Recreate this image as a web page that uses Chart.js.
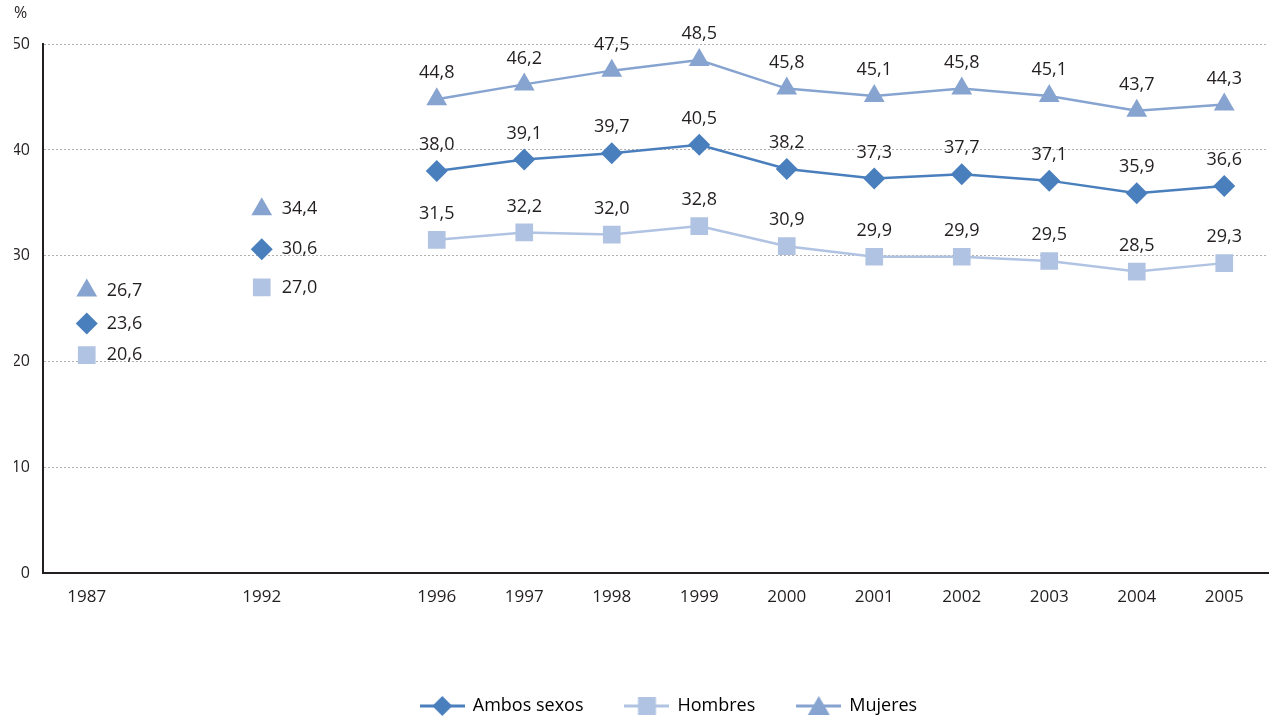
<!DOCTYPE html>
<html>
<head>
<meta charset="utf-8">
<script src="https://cdn.jsdelivr.net/npm/chart.js@4"></script>
<style>
  html, body { margin: 0; padding: 0; background: #fff; }
  canvas { display: block; }
</style>
</head>
<body>
<canvas id="chart" width="1269" height="722"></canvas>
<script>
// years; empty slots keep the spacing of the original axis
const years = ['1987', '', '1992', '', '1996', '1997', '1998', '1999', '2000', '2001', '2002', '2003', '2004', '2005'];
const ambosSexos = [23.6, null, 30.6, null, 38.0, 39.1, 39.7, 40.5, 38.2, 37.3, 37.7, 37.1, 35.9, 36.6];
const hombres = [20.6, null, 27.0, null, 31.5, 32.2, 32.0, 32.8, 30.9, 29.9, 29.9, 29.5, 28.5, 29.3];
const mujeres = [26.7, null, 34.4, null, 44.8, 46.2, 47.5, 48.5, 45.8, 45.1, 45.8, 45.1, 43.7, 44.3];
const yTicks = [0, 10, 20, 30, 40, 50];

const colAmbos = '#4a7fbd';
const colHombres = '#b0c3e2';
const colMujeres = '#87a4d1';

// legend icon: short line with the marker in the middle
function legendIcon(color, shape) {
  const c = document.createElement('canvas');
  c.width = 45; c.height = 22;
  const g = c.getContext('2d');
  g.strokeStyle = color; g.lineWidth = 3;
  g.beginPath(); g.moveTo(0, 11); g.lineTo(45, 11); g.stroke();
  g.fillStyle = color;
  g.beginPath();
  if (shape === 'diamond') {
    g.moveTo(22.5, 1); g.lineTo(32.5, 11); g.lineTo(22.5, 21); g.lineTo(12.5, 11);
  } else if (shape === 'square') {
    g.rect(13.5, 2, 18, 18);
  } else {
    g.moveTo(22.5, 1); g.lineTo(33.5, 20); g.lineTo(11.5, 20);
  }
  g.closePath(); g.fill();
  return c;
}

const fmt = v => v.toFixed(1).replace('.', ',');

const valueLabels = {
  id: 'valueLabels',
  afterDatasetsDraw(chart) {
    const ctx = chart.ctx;
    ctx.save();
    ctx.font = '18px "Open Sans"';
    ctx.fillStyle = '#231f20';
    ctx.textBaseline = 'middle';
    chart.data.datasets.forEach((ds, i) => {
      const meta = chart.getDatasetMeta(i);
      meta.data.forEach((pt, j) => {
        const v = ds.data[j];
        if (v == null) return;
        if (j < 4) {
          ctx.textAlign = 'left';
          ctx.fillText(fmt(v), pt.x + 20, pt.y);
        } else {
          ctx.textAlign = 'center';
          ctx.fillText(fmt(v), pt.x, pt.y - 26);
        }
      });
    });
    ctx.restore();
  }
};

// nudge the legend row to the right, as in the original
const legendShift = {
  id: 'legendShift',
  afterLayout(chart) {
    chart.legend.left += 28;
    chart.legend.right += 28;
  }
};

const icons = [legendIcon(colAmbos, 'diamond'), legendIcon(colHombres, 'square'), legendIcon(colMujeres, 'triangle')];

new Chart(document.getElementById('chart'), {
  type: 'line',
  data: {
    labels: years,
    datasets: [
      {
        label: 'Ambos sexos',
        data: ambosSexos,
        borderColor: colAmbos,
        backgroundColor: colAmbos,
        borderWidth: 2.5,
        pointStyle: 'rectRot',
        pointRadius: 11,
        pointBorderWidth: 0
      },
      {
        label: 'Hombres',
        data: hombres,
        borderColor: colHombres,
        backgroundColor: colHombres,
        borderWidth: 2.5,
        pointStyle: 'rect',
        pointRadius: 12.5,
        pointBorderWidth: 0
      },
      {
        label: 'Mujeres',
        data: mujeres,
        borderColor: colMujeres,
        backgroundColor: colMujeres,
        borderWidth: 2.5,
        pointStyle: 'triangle',
        pointRadius: 12,
        pointBorderWidth: 0
      }
    ]
  },
  options: {
    responsive: false,
    animation: false,
    spanGaps: false,
    layout: { autoPadding: false, padding: { left: 14, right: 1, top: 0, bottom: 0 } },
    scales: {
      x: {
        offset: true,
        grid: { display: false, drawTicks: false, offset: true },
        border: { display: true, color: '#231f20', width: 2 },
        ticks: { color: '#231f20', font: { family: '"Open Sans"', size: 17 }, padding: 14, autoSkip: false, maxRotation: 0 },
        afterFit: s => { s.height = 82; s.paddingLeft = 0; s.paddingRight = 0; }
      },
      y: {
        min: 0,
        max: 50,
        afterBuildTicks: s => { s.ticks = yTicks.map(v => ({ value: v })); },
        grid: { color: '#b0b0b0', lineWidth: 1, drawTicks: false },
        border: { display: true, color: '#231f20', width: 2, dash: [2, 2] },
        ticks: { color: '#231f20', font: { family: '"Open Sans"', size: 16 }, padding: 13 },
        afterFit: s => { s.width = 29; }
      }
    },
    plugins: {
      title: {
        display: true,
        text: '%',
        align: 'start',
        color: '#231f20',
        font: { family: '"Open Sans"', size: 16, weight: 'normal' },
        padding: { top: 4, bottom: 21 }
      },
      legend: {
        position: 'bottom',
        maxHeight: 67,
        labels: {
          usePointStyle: true,
          pointStyleWidth: 43,
          padding: 42,
          color: '#231f20',
          font: { family: '"Open Sans"', size: 18 },
          generateLabels: chart => chart.data.datasets.map((ds, i) => ({
            text: ds.label,
            pointStyle: icons[i],
            fillStyle: ds.borderColor,
            strokeStyle: ds.borderColor,
            lineWidth: 0,
            hidden: false,
            datasetIndex: i
          }))
        }
      },
      tooltip: { enabled: false }
    }
  },
  plugins: [valueLabels, legendShift]
});
</script>
</body>
</html>
